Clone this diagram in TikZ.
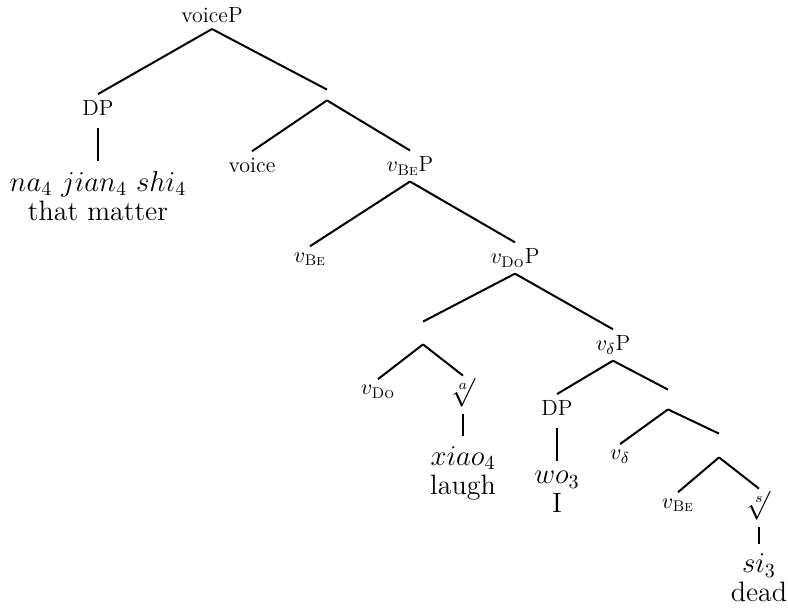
\documentclass[tikz,border=0pt]{standalone}
\usepackage{amsmath}
\newcommand{\vsub}[1]{$v_{\text{\textsc{#1}}}$}
\newcommand{\rootidx}[1]{$\sqrt[#1]{\vphantom{b}}$}

\begin{document}
\begin{tikzpicture}[x=0.5pt, y=-0.5pt,
    lab/.style={font=\fontsize{11}{12}\selectfont, inner sep=3pt},
    rt/.style={font=\fontsize{15}{16}\selectfont, inner sep=0.5pt},
    word/.style={font=\fontsize{14}{14.5}\selectfont, align=center, inner sep=1pt},
    gap/.style={inner sep=0pt, minimum width=0pt},
    br/.style={line width=1pt},
    stem/.style={br, shorten <=3pt, shorten >=4pt}
]
\useasboundingbox (0,0) rectangle (788,614);
% top of the tree
\node[lab] (voiceP) at (212,15) {voiceP};
\node[lab] (dp1) at (98,108) {DP};
\node[word] (na) at (98,196) {$na_4$\ $jian_4$\ $shi_4$\\that matter};
\node[gap, minimum height=5pt] (x1) at (327,95) {};
\node[lab] (voice) at (252,165) {voice};
\node[lab] (vbeP) at (410,166) {\vsub{Be}P};
% v_Be and v_Do
\node[lab] (vbe1) at (310,259) {\vsub{Be}};
\node[lab] (vdoP) at (515,258) {\vsub{Do}P};
\node[gap, minimum height=11pt] (x2) at (423,333) {};
\node[lab] (vdo) at (378,392) {\vsub{Do}};
\node[rt] (roota) at (463,392) {\rootidx{a}};
\node[word] (xiao) at (463,473) {$xiao_4$\\laugh};
% v_delta
\node[lab] (vdP) at (613,345) {$v_\delta$P};
\node[lab] (dp2) at (557,408) {DP};
\node[word] (wo) at (557,492) {$wo_3$\\I};
\node[gap, minimum height=9.5pt] (x3) at (668,399.5) {};
\node[lab] (vd) at (620,457) {$v_\delta$};
\node[gap, minimum height=11.5pt] (x4) at (719,445.5) {};
\node[lab] (vbe2) at (678,505) {\vsub{Be}};
\node[rt] (rootb) at (759,505) {\rootidx{s}};
\node[word] (si) at (759,578) {$si_3$\\dead};

\draw[br] (voiceP.south) -- (dp1.north);
\draw[br] (voiceP.south) -- (x1.north);
\draw[stem] (dp1.south) -- (na.north);
\draw[br] (x1.south) -- (voice.north);
\draw[br] (x1.south) -- (vbeP.north);
\draw[br] (vbeP.south) -- (vbe1.north);
\draw[br] (vbeP.south) -- (vdoP.north);
\draw[br] (vdoP.south) -- (x2.north);
\draw[br] (vdoP.south) -- (vdP.north);
\draw[br] (x2.south) -- (vdo.north);
\draw[br] (x2.south) -- (roota.north);
\draw[stem] (roota.south) -- (xiao.north);
\draw[br] (vdP.south) -- (dp2.north);
\draw[br] (vdP.south) -- (x3.north);
\draw[stem] (dp2.south) -- (wo.north);
\draw[br] (x3.south) -- (vd.north);
\draw[br] (x3.south) -- (x4.north);
\draw[br] (x4.south) -- (vbe2.north);
\draw[br] (x4.south) -- (rootb.north);
\draw[stem] (rootb.south) -- (si.north);
\end{tikzpicture}
\end{document}
